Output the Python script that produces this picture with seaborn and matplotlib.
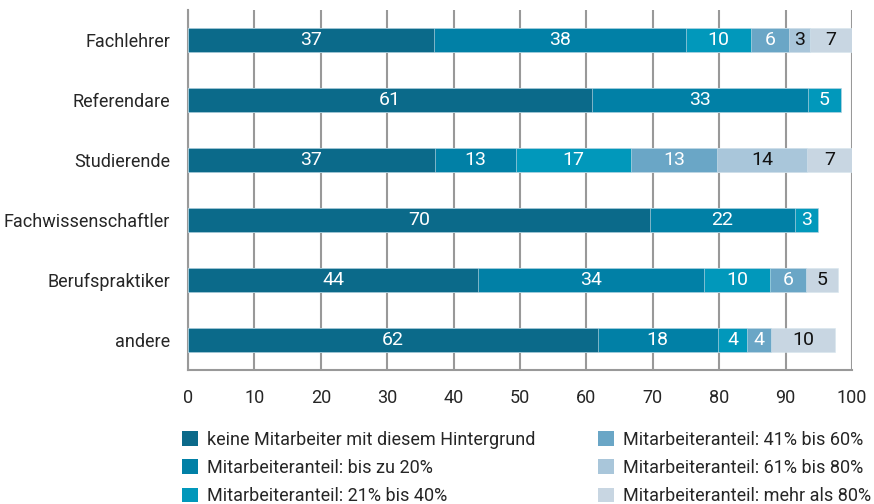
import numpy as np
import pandas as pd
import matplotlib
matplotlib.use("Agg")
import matplotlib.pyplot as plt
import seaborn as sns
from matplotlib import font_manager
from matplotlib.patches import Patch

# Categories and series (bar lengths, labels as printed)
groups = ["Fachlehrer", "Referendare", "Studierende", "Fachwissenschaftler", "Berufspraktiker", "andere"]
series = [
    "keine Mitarbeiter mit diesem Hintergrund",
    "Mitarbeiteranteil: bis zu 20%",
    "Mitarbeiteranteil: 21% bis 40%",
    "Mitarbeiteranteil: 41% bis 60%",
    "Mitarbeiteranteil: 61% bis 80%",
    "Mitarbeiteranteil: mehr als 80%",
]
keine = [37.0, 60.8, 37.2, 69.6, 43.7, 61.7]
bis20 = [38.0, 32.6, 12.2, 21.8, 34.0, 18.1]
p21_40 = [9.8, 4.9, 17.3, 3.5, 10.0, 4.4]
p41_60 = [5.7, 0, 13.0, 0, 5.4, 3.6]
p61_80 = [3.2, 0, 13.5, 0, 0, 0]
ueber80 = [6.3, 0, 6.8, 0, 4.8, 9.6]

lab_keine = [37, 61, 37, 70, 44, 62]
lab_bis20 = [38, 33, 13, 22, 34, 18]
lab_21_40 = [10, 5, 17, 3, 10, 4]
lab_41_60 = [6, None, 13, None, 6, 4]
lab_61_80 = [3, None, 14, None, None, None]
lab_80 = [7, None, 7, None, 5, 10]

colors = ["#0b6a8a", "#0180a6", "#0198bb", "#6aa6c6", "#a9c6da", "#c8d6e2"]
text_colors = ["white", "white", "white", "white", "#111111", "#111111"]

sns.set_style("white")
avail = {f.name for f in font_manager.fontManager.ttflist}
fam = "Liberation Sans Narrow" if "Liberation Sans Narrow" in avail else "Roboto"
plt.rcParams["font.family"] = [fam, "DejaVu Sans"]

values = [keine, bis20, p21_40, p41_60, p61_80, ueber80]
labels = [lab_keine, lab_bis20, lab_21_40, lab_41_60, lab_61_80, lab_80]

df = pd.DataFrame({s: v for s, v in zip(series, values)}, index=groups)
cum = df.cumsum(axis=1)

fig = plt.figure(figsize=(8.74, 5.04), dpi=100)
ax = fig.add_axes([188 / 874, 1 - 370 / 504, 664 / 874, 360 / 504])

# draw longest cumulative first so shorter ones sit on top
for i in range(len(series) - 1, -1, -1):
    d = pd.DataFrame({"group": groups, "val": cum.iloc[:, i].values})
    sns.barplot(data=d, x="val", y="group", orient="h", color=colors[i],
                width=0.4, saturation=1, ax=ax, zorder=3,
                edgecolor="#d8e6ee", linewidth=0.4)

for i, s in enumerate(series):
    for j, g in enumerate(groups):
        lab = labels[i][j]
        if lab is None:
            continue
        start = cum.iloc[j, i] - df.iloc[j, i]
        mid = start + df.iloc[j, i] / 2
        ax.text(mid, j, str(lab), ha="center", va="center", fontsize=14,
                color=text_colors[i], zorder=5)

ax.set_xlim(0, 100)
ax.set_ylim(5.5, -0.5)
ax.set_xticks(np.arange(0, 101, 10))
ax.set_xticklabels([str(v) for v in range(0, 101, 10)], fontsize=13)
ax.set_yticks(range(len(groups)))
ax.set_yticklabels(groups, fontsize=13)
ax.set_yticks(np.arange(-0.5, 6, 1), minor=True)
ax.tick_params(axis="y", which="major", length=0, pad=13)
ax.tick_params(axis="y", which="minor", length=6, color="#999999", width=1.5)
ax.tick_params(axis="x", length=6, color="#999999", width=1.5, pad=8)
ax.set_xlabel("")
ax.set_ylabel("")
ax.grid(axis="x", color="#999999", linewidth=1.5, zorder=0)
ax.set_axisbelow(True)
for side in ["top", "right"]:
    ax.spines[side].set_visible(False)
for side in ["left", "bottom"]:
    ax.spines[side].set_color("#999999")
    ax.spines[side].set_linewidth(1.5)

handles = [Patch(facecolor=c, edgecolor="none") for c in colors]
leg_kw = dict(loc="upper left", frameon=False, fontsize=13, handlelength=0.9,
              handleheight=0.9, handletextpad=0.5, labelspacing=0.56,
              borderaxespad=0, borderpad=0)
fig.legend(handles[:3], series[:3], bbox_to_anchor=(182 / 874, 1 - 431 / 504), **leg_kw)
fig.legend(handles[3:], series[3:], bbox_to_anchor=(598 / 874, 1 - 431 / 504), **leg_kw)

fig.savefig("out.png", dpi=100)
